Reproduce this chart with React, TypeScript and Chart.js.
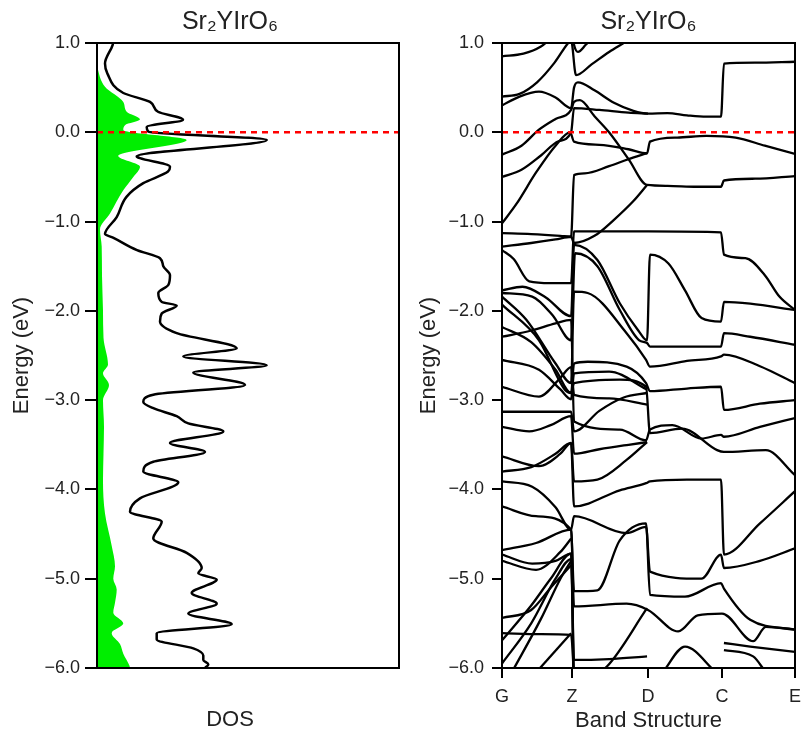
import React, { useEffect, useRef } from 'react';
import { Chart, registerables } from 'chart.js';

Chart.register(...registerables);

const FONT = "'Liberation Sans', Arial, sans-serif";
const TEXT = '#222';
const FORMULA = 'Sr₂YIrO₆';

// Density of states (arbitrary units) vs energy (eV)
const totalEnergy = [1.0, 0.98, 0.77, 0.66, 0.44, 0.34, 0.23, 0.14, 0.06, 0.007, -0.086, -0.27, -0.29, -0.385, -0.44, -0.57, -0.72, -0.95, -1.14, -1.18, -1.32, -1.41, -1.5, -1.6, -1.71, -1.8, -1.9, -1.94, -2.03, -2.12, -2.25, -2.42, -2.51, -2.61, -2.69, -2.83, -2.94, -3.02, -3.09, -3.18, -3.26, -3.35, -3.48, -3.58, -3.69, -3.8, -3.92, -4.1, -4.25, -4.36, -4.55, -4.71, -4.88, -4.94, -5.01, -5.16, -5.28, -5.39, -5.51, -5.61, -5.68, -5.78, -5.86, -5.91, -5.96, -6.0];
const totalDos = [16, 15.7, 8, 10.3, 26.3, 53, 61, 86, 49.7, 51.3, 169.7, 39.7, 43, 73, 71, 46.3, 29.7, 19.7, 8, 16, 40, 63, 66.3, 73, 71.3, 61.3, 64.7, 79.7, 64.7, 63, 79.7, 139.7, 86.3, 169.7, 96.3, 148, 56.3, 46.3, 56.3, 79.7, 91.3, 126.3, 73, 108, 56.3, 46.3, 81.3, 43, 33, 64.7, 56.3, 89.7, 104.7, 101.3, 119.7, 94.7, 119.7, 91.3, 134.7, 59.7, 59.7, 96.3, 106.3, 106.3, 111.3, 108];

const pdosEnergy = [0.75, 0.72, 0.51, 0.34, 0.23, 0.145, 0.08, 0.026, -0.086, -0.265, -0.385, -0.5, -0.65, -0.91, -1.09, -1.28, -1.6, -2.0, -2.3, -2.6, -2.7, -2.83, -3.0, -3.3, -3.6, -3.9, -4.27, -4.63, -4.86, -5.0, -5.12, -5.27, -5.38, -5.5, -5.61, -5.73, -5.84, -5.97, -6.0];
const pdosValue = [0, 0.5, 8, 26.3, 29.7, 43, 28, 26.3, 89.7, 21.3, 43, 36.3, 26.3, 13, 3, 4.7, 5, 6, 6.5, 11, 6, 12, 6, 7, 6.5, 6, 8, 14.7, 18, 16.3, 19.7, 18, 16.3, 26.3, 14.7, 23, 26.3, 32.3, 33];

// Band structure: path positions of the high-symmetry points and bands as [k, E] points
const kPos = [0, 72, 150, 226, 301];
const kLabels = ['G', 'Z', 'D', 'C', 'E'];

const bands: number[][][] = [
  [[0, 0.85], [22, 0.88], [40, 0.96], [50, 1.05], [70, 1.25], [74, 0.98], [78, 0.9], [86, 0.98], [100, 1.15]],
  [[0, 0.4], [18, 0.43], [36, 0.56], [54, 0.78], [68, 1.0], [71, 1.03], [76, 0.64], [92, 0.76], [110, 0.9], [125, 1.0], [140, 1.1]],
  [[0, 0.3], [18, 0.4], [38, 0.455], [55, 0.39], [71, 0.27], [74, 0.5], [78, 0.56], [95, 0.47], [115, 0.33], [135, 0.24], [150, 0.21], [170, 0.215], [190, 0.19], [210, 0.175], [225, 0.175], [228, 0.77], [260, 0.78], [301, 0.79]],
  [[0, -0.25], [20, -0.15], [38, 0.03], [55, 0.15], [71, 0.25], [74, 0.34], [80, 0.36], [95, 0.18], [110, 0.0], [130, -0.3], [149, -0.59], [170, -0.6], [200, -0.61], [225, -0.61], [228, -0.54], [260, -0.52], [301, -0.49]],
  [[0, -0.5], [20, -0.42], [40, -0.26], [58, -0.1], [71, 0.0], [74, 0.27], [100, 0.25], [130, 0.22], [150, 0.21]],
  [[0, -1.02], [15, -0.8], [35, -0.45], [55, -0.15], [70, 0.0], [74, -0.105], [100, -0.14], [130, -0.19], [149, -0.235], [152, -0.105], [180, -0.06], [210, -0.04], [240, -0.06], [270, -0.15], [301, -0.243]],
  [[0, -1.13], [30, -1.14], [60, -1.16], [71, -1.17], [74, -0.48], [85, -0.46], [110, -0.38], [130, -0.3], [149, -0.235]],
  [[0, -1.28], [30, -1.24], [55, -1.2], [71, -1.17], [74, -1.24], [95, -1.16], [115, -0.98], [135, -0.77], [149, -0.59]],
  [[0, -1.32], [12, -1.42], [28, -1.67], [50, -1.69], [71, -1.69], [74, -1.11], [150, -1.11], [225, -1.12], [228, -1.37], [250, -1.41], [270, -1.6], [285, -1.84], [301, -1.99]],
  [[0, -1.77], [21, -1.73], [45, -1.85], [71, -2.06], [74, -1.26], [98, -1.43], [121, -1.915], [140, -2.22], [149, -2.33], [152, -1.37], [171, -1.47], [188, -1.77], [205, -2.08], [225, -2.12], [228, -1.9], [255, -1.92], [301, -1.99]],
  [[0, -1.8], [31, -1.84], [52, -2.05], [71, -2.33], [75, -1.355], [98, -1.5], [121, -1.99], [141, -2.33], [149, -2.36], [152, -2.4], [190, -2.4], [225, -2.4], [228, -2.25], [255, -2.29], [301, -2.38]],
  [[0, -1.84], [25, -2.1], [55, -2.59], [71, -2.81], [74, -1.785], [88, -1.8], [128, -2.25], [148, -2.55], [152, -2.625], [190, -2.56], [225, -2.51], [228, -2.49], [265, -2.62], [301, -2.81]],
  [[0, -1.93], [38, -2.33], [65, -2.89], [71, -2.92], [74, -2.59], [88, -2.57], [128, -2.625], [148, -2.81], [152, -2.9], [190, -2.87], [225, -2.85], [228, -3.11], [265, -3.04], [301, -3.0]],
  [[0, -2.18], [30, -2.35], [55, -2.66], [71, -2.92], [74, -2.81], [121, -2.77], [148, -2.85], [152, -3.37], [185, -3.32], [221, -3.56], [228, -3.58], [271, -3.56], [301, -3.84]],
  [[0, -2.29], [30, -2.22], [55, -2.14], [71, -2.1], [74, -3.24], [121, -3.33], [148, -3.45], [152, -3.33], [175, -3.28], [205, -3.43], [225, -3.39], [228, -3.41], [265, -3.3], [301, -3.2]],
  [[0, -2.55], [38, -2.66], [60, -2.88], [71, -2.99], [74, -2.7], [110, -2.68], [149, -2.88]],
  [[0, -2.85], [38, -2.96], [60, -2.75], [71, -2.63], [74, -2.94], [110, -2.98], [149, -3.05]],
  [[0, -3.13], [40, -3.13], [71, -3.13], [74, -3.35], [100, -3.12], [125, -2.97], [149, -2.92]],
  [[0, -3.3], [28, -3.35], [50, -3.28], [71, -3.18], [74, -3.6], [100, -3.55], [130, -3.5], [149, -3.47]],
  [[0, -3.63], [38, -3.74], [60, -3.6], [71, -3.48], [74, -3.91], [98, -3.89], [128, -3.67], [149, -3.47]],
  [[0, -3.8], [30, -3.75], [55, -3.6], [71, -3.48], [74, -4.19], [121, -4.01], [148, -3.93], [152, -3.91], [190, -3.89], [225, -3.89], [228, -4.73], [265, -4.38], [301, -4.02]],
  [[0, -3.91], [31, -3.97], [55, -4.2], [71, -4.45], [74, -4.3], [128, -4.49], [148, -4.42], [152, -4.92], [205, -5.0], [225, -4.73], [228, -4.88], [265, -4.8], [301, -4.66]],
  [[0, -4.19], [35, -4.3], [71, -4.45], [74, -5.14], [98, -5.13], [121, -4.57], [148, -4.38], [152, -5.18], [188, -5.2], [225, -5.05], [228, -5.11], [255, -5.46], [301, -5.57]],
  [[0, -4.68], [35, -4.6], [71, -4.45], [74, -5.31], [128, -5.28], [150, -5.35], [181, -5.59], [201, -5.41], [226, -5.39], [258, -5.7], [271, -5.54], [301, -5.57]],
  [[0, -4.73], [31, -4.83], [55, -4.8], [71, -4.72], [74, -5.91], [110, -5.9], [149, -5.87]],
  [[0, -5.69], [30, -5.3], [50, -5.0], [71, -4.72], [74, -6.2], [108, -5.98], [149, -5.33]],
  [[0, -5.95], [30, -5.5], [55, -5.0], [71, -4.78], [74, -6.3]],
  [[0, -5.61], [40, -5.62], [71, -5.63], [74, -6.1]],
  [[35, -6.05], [71, -5.61]],
  [[0, -5.44], [30, -5.35], [50, -5.1], [71, -4.85]],
  [[10, -6.05], [40, -5.45], [60, -5.0], [71, -4.8]],
  [[0, -4.8], [35, -4.9], [60, -4.7], [71, -4.55]],
  [[228, -5.72], [255, -5.76], [301, -5.82]],
  [[165, -6.05], [188, -5.76], [220, -6.05]],
  [[228, -5.8], [258, -5.87], [271, -6.05]],
];

const fmtE = (v: number) => (v < 0 ? '\u2212' : '') + Math.abs(v).toFixed(1);

const framePlugin = {
  id: 'frame',
  afterDraw(chart: any) {
    const { ctx, chartArea: a } = chart;
    ctx.save();
    ctx.strokeStyle = '#000';
    ctx.lineWidth = 2;
    ctx.strokeRect(a.left, a.top, a.right - a.left, a.bottom - a.top);
    ctx.restore();
  },
};

const energyAxis = (tickLength: number, pad: number, titlePad: number) => ({
  type: 'linear',
  position: 'left',
  min: -6,
  max: 1,
  ticks: { stepSize: 1, color: TEXT, font: { family: FONT, size: 18 }, padding: pad, callback: (v: any) => fmtE(Number(v)) },
  grid: { display: true, drawOnChartArea: false, drawTicks: true, tickLength, color: '#000', lineWidth: 2 },
  border: { display: true, color: '#000', width: 2 },
  title: { display: true, text: 'Energy (eV)', color: TEXT, font: { family: FONT, size: 22 }, padding: { top: titlePad, bottom: 0 } },
  afterFit: (s: any) => { s.width = 97; },
});

export default function App() {
  const leftRef = useRef<HTMLCanvasElement>(null);
  const rightRef = useRef<HTMLCanvasElement>(null);

  useEffect(() => {
    const left = new Chart(leftRef.current as HTMLCanvasElement, {
      type: 'line',
      data: {
        datasets: [
          { data: [{ x: 0, y: 0 }, { x: 302, y: 0 }], borderColor: '#ff0000', borderWidth: 2.5, borderDash: [6, 5], pointRadius: 0, fill: false, yAxisID: 'y' },
          { data: totalEnergy.map((e, i) => ({ x: totalDos[i], y: e })), borderColor: '#000', borderWidth: 2.5, pointRadius: 0, fill: false, cubicInterpolationMode: 'monotone', yAxisID: 'y' },
          { data: pdosEnergy.map((e, i) => ({ x: pdosValue[i], y: e })), borderColor: 'rgba(0,0,0,0)', borderWidth: 0, backgroundColor: '#00ee00', pointRadius: 0, fill: 'origin', cubicInterpolationMode: 'monotone', yAxisID: 'y' },
        ],
      } as any,
      options: {
        indexAxis: 'y',
        responsive: false,
        animation: false,
        devicePixelRatio: 1,
        events: [],
        layout: { padding: 0 },
        plugins: {
          legend: { display: false },
          tooltip: { enabled: false },
          title: { display: true, text: FORMULA, color: TEXT, font: { family: FONT, size: 25, weight: 'normal' }, padding: { top: 7, bottom: 6 } },
          subtitle: { display: true, text: 'DOS', position: 'bottom', color: TEXT, font: { family: FONT, size: 22, weight: 'normal' }, padding: { top: 0, bottom: 5 } },
        },
        scales: {
          x: {
            type: 'linear', min: 0, max: 302,
            ticks: { display: false },
            grid: { display: false },
            border: { display: true, color: '#000', width: 2 },
            afterFit: (s: any) => { s.height = 38.6; },
          },
          y: energyAxis(12, 5, 9),
          yR: {
            type: 'linear', position: 'right', min: 0, max: 1,
            ticks: { display: false },
            grid: { display: false },
            border: { display: false },
            afterFit: (s: any) => { s.width = 61; },
          },
        },
      } as any,
      plugins: [framePlugin],
    });

    const right = new Chart(rightRef.current as HTMLCanvasElement, {
      type: 'line',
      data: {
        datasets: [
          { data: [{ x: 0, y: 0 }, { x: 301, y: 0 }], borderColor: '#ff0000', borderWidth: 2.5, borderDash: [6, 5], pointRadius: 0, fill: false },
          ...bands.map((b) => ({
            data: b.map((p) => ({ x: p[0], y: p[1] })),
            borderColor: '#000',
            borderWidth: 2.3,
            pointRadius: 0,
            fill: false,
            cubicInterpolationMode: 'monotone',
          })),
        ],
      } as any,
      options: {
        responsive: false,
        animation: false,
        devicePixelRatio: 1,
        events: [],
        layout: { padding: { right: 5 } },
        plugins: {
          legend: { display: false },
          tooltip: { enabled: false },
          title: { display: true, fullSize: false, text: FORMULA, color: TEXT, font: { family: FONT, size: 25, weight: 'normal' }, padding: { top: 7, bottom: 6 } },
        },
        scales: {
          x: {
            type: 'linear', min: 0, max: 301,
            afterBuildTicks: (s: any) => { s.ticks = kPos.map((v) => ({ value: v })); },
            ticks: {
              autoSkip: false, maxRotation: 0, color: TEXT, font: { family: FONT, size: 18 }, padding: 8,
              callback: (v: any) => kLabels[kPos.indexOf(Number(v))] ?? '',
            },
            grid: { display: true, drawOnChartArea: false, drawTicks: true, tickLength: 10, color: '#000', lineWidth: 2 },
            border: { display: true, color: '#000', width: 2 },
            title: { display: true, text: 'Band Structure', color: TEXT, font: { family: FONT, size: 22 }, padding: { top: 0, bottom: 4 } },
            afterFit: (s: any) => { s.height = 70; },
          },
          y: energyAxis(10, 8, 11),
        },
      } as any,
      plugins: [framePlugin],
    });

    return () => {
      left.destroy();
      right.destroy();
    };
  }, []);

  return (
    <div style={{ position: 'absolute', left: 0, top: 0, width: 809, height: 738, background: '#fff' }}>
      <canvas ref={leftRef} width={460} height={738} style={{ position: 'absolute', left: 0, top: 0 }} />
      <canvas ref={rightRef} width={404} height={738} style={{ position: 'absolute', left: 405, top: 0 }} />
    </div>
  );
}
